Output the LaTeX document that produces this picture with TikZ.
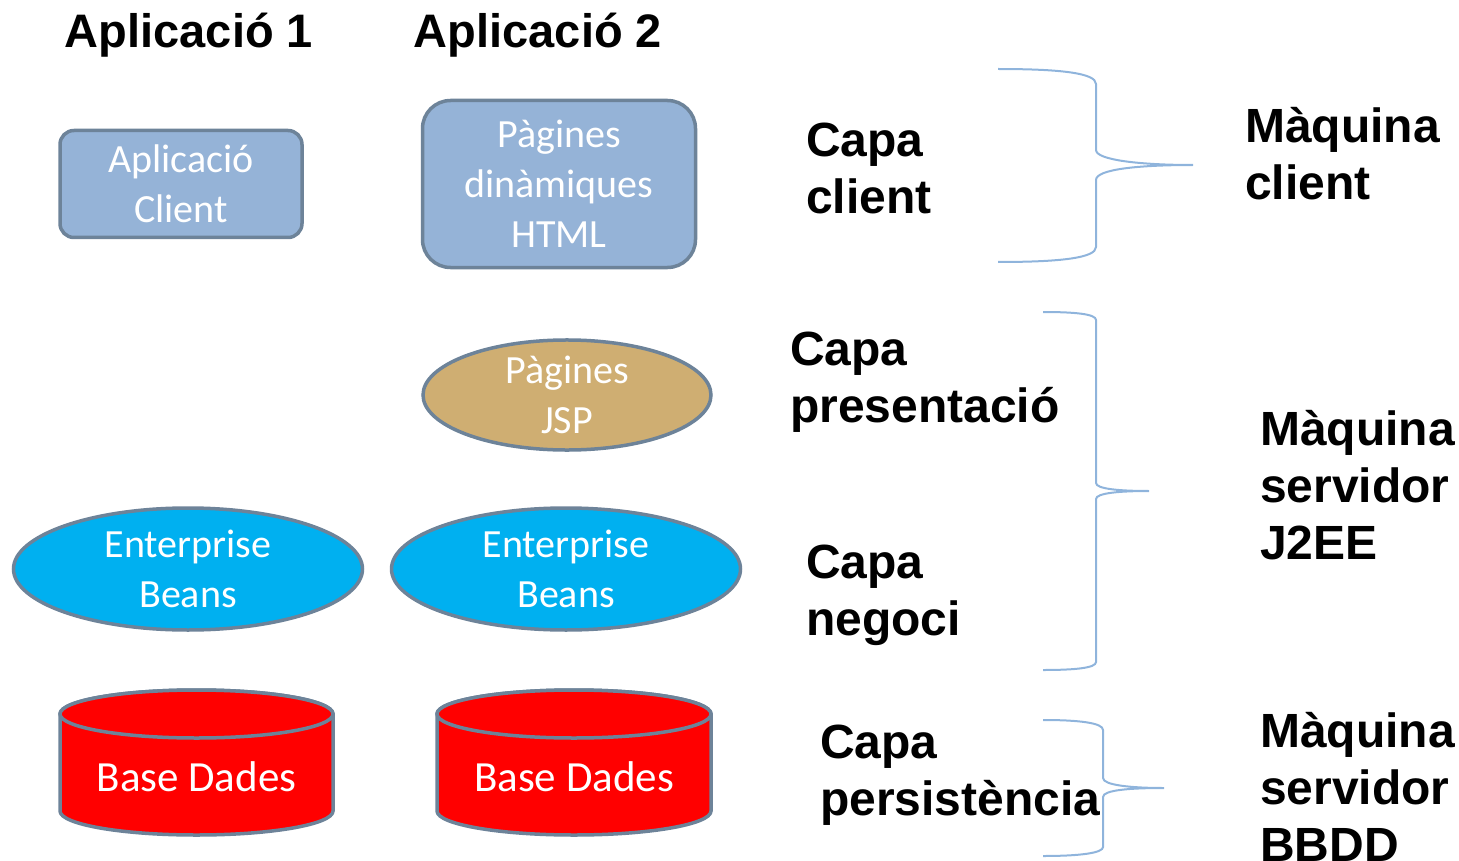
\documentclass[tikz,border=0pt]{standalone}
\usepackage{fontspec}
\setmainfont{Liberation Sans}
\newfontfamily\boxfont{Carlito}
\usetikzlibrary{shapes.geometric}
\definecolor{boxblue}{RGB}{149,179,215}
\definecolor{bordc}{RGB}{109,131,153}
\definecolor{tanfill}{RGB}{207,174,114}
\definecolor{cyanfill}{RGB}{0,176,240}
\definecolor{bracec}{RGB}{143,180,220}
\tikzset{
  shapetxt/.style={text=white, font=\boxfont\fontsize{40}{50}\selectfont, align=center, inner sep=0pt},
  rbox/.style={shapetxt, draw=bordc, line width=3.5pt, fill=boxblue},
  oval/.style={shapetxt, ellipse, draw=bordc, line width=3.5pt},
  cyl/.style={draw=bordc, line width=3.5pt, fill=red},
  dbtxt/.style={shapetxt, font=\boxfont\fontsize{43}{50}\selectfont},
  lbl/.style={font=\bfseries\fontsize{48}{57}\selectfont, align=left, inner sep=0pt, anchor=west},
  ttl/.style={font=\bfseries\fontsize{47}{57}\selectfont, inner sep=0pt},
  brace/.style={draw=bracec, line width=2pt}
}
\begin{document}
\begin{tikzpicture}[x=1pt,y=1pt]
\useasboundingbox (0,0) rectangle (1459,-861);

% titles
\node[ttl] (t1) at (189,-35) {Aplicació 1};
\node[ttl] (t2) at (538,-35) {Aplicació 2};

% client layer
\node[rbox, minimum width=242, minimum height=107, rounded corners=14] (apcl) at (181,-184) {Aplicació\\Client};
\node[rbox, minimum width=273, minimum height=167, rounded corners=28] (html) at (559,-184) {Pàgines\\dinàmiques\\HTML};

% presentation
\node[oval, fill=tanfill, minimum width=288, minimum height=104] (jsp) at (567,-395) {Pàgines\\JSP};

% business
\node[oval, fill=cyanfill, minimum width=349, minimum height=122] (eb1) at (188,-569) {Enterprise\\Beans};
\node[oval, fill=cyanfill, minimum width=349, minimum height=122] (eb2) at (566,-569) {Enterprise\\Beans};

% databases
\draw[cyl] (60,-714) -- (60,-811) arc[start angle=180,end angle=360,x radius=136.5,y radius=24] -- (333,-714) arc[start angle=0,end angle=180,x radius=136.5,y radius=24] -- cycle;
\draw[cyl] (196.5,-714) ellipse[x radius=136.5, y radius=24];
\node[dbtxt] (db1) at (196.5,-777) {Base Dades};
\draw[cyl] (437,-714) -- (437,-811) arc[start angle=180,end angle=360,x radius=137,y radius=24] -- (711,-714) arc[start angle=0,end angle=180,x radius=137,y radius=24] -- cycle;
\draw[cyl] (574,-714) ellipse[x radius=137, y radius=24];
\node[dbtxt] (db2) at (574,-777) {Base Dades};

% layer labels
\node[lbl] (lc) at (806,-168.5) {Capa\\client};
\node[lbl] (lp) at (790,-382) {Capa\\presentació};
\node[lbl] (ln) at (806,-595) {Capa\\negoci};
\node[lbl] (lper) at (820,-775) {Capa\\persistència};

% machine labels
\node[lbl] (mc) at (1245,-153.5) {Màquina\\client};
\node[lbl] (ms) at (1260,-485) {Màquina\\servidor\\J2EE};
\node[lbl] (mb) at (1260,-787) {Màquina\\servidor\\BBDD};

% braces
\draw[brace] (998,-69) .. controls (1060,-69) and (1096,-73) .. (1096,-84) -- (1096,-150)
  .. controls (1096,-160) and (1140,-165) .. (1193,-165)
  .. controls (1140,-165) and (1096,-169) .. (1096,-180) -- (1096,-247)
  .. controls (1096,-258) and (1060,-262) .. (998,-262);
\draw[brace] (1043,-312) .. controls (1075,-312) and (1096,-314) .. (1096,-320) -- (1096,-483)
  .. controls (1096,-489) and (1120,-491) .. (1149,-491)
  .. controls (1120,-491) and (1096,-493) .. (1096,-499) -- (1096,-662)
  .. controls (1096,-668) and (1075,-670) .. (1043,-670);
\draw[brace] (1043,-720) .. controls (1080,-720) and (1103,-723) .. (1103,-730) -- (1103,-778)
  .. controls (1103,-785) and (1130,-788) .. (1164,-788)
  .. controls (1130,-788) and (1103,-790) .. (1103,-797) -- (1103,-847)
  .. controls (1103,-853) and (1080,-856) .. (1043,-856);
\end{tikzpicture}
\end{document}
